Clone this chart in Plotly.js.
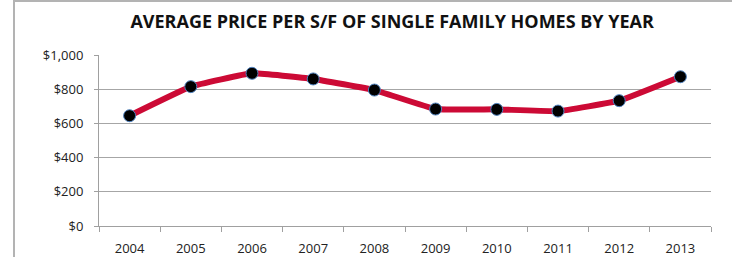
<!DOCTYPE html>
<html>
<head>
<meta charset="utf-8">
<script src="https://cdn.plot.ly/plotly-3.0.1.min.js"></script>
<style>
  html, body { margin: 0; padding: 0; background: #fff; }
  #wrap { position: relative; width: 732px; height: 257px; overflow: hidden; }
  #chart { position: absolute; left: 0; top: 0; width: 732px; height: 257px; }
  #frame { position: absolute; left: 13px; top: 0; width: 719px; height: 257px;
           border-left: 2px solid #b3b3b3; border-top: 2px solid #b3b3b3; box-sizing: border-box; pointer-events: none; }
</style>
</head>
<body>
<div id="wrap">
  <div id="chart"></div>
  <div id="frame"></div>
</div>
<script>
const years = ['2004','2005','2006','2007','2008','2009','2010','2011','2012','2013'];
const pricePerSF = [645, 815, 893, 860, 795, 684, 682, 672, 733, 873];
const yTickVals = [0, 200, 400, 600, 800, 1000];
const yTickText = ['$0', '$200', '$400', '$600', '$800', '$1,000'];
const chartTitle = 'AVERAGE PRICE PER S/F OF SINGLE FAMILY HOMES BY YEAR';

const trace = {
  x: years,
  y: pricePerSF,
  type: 'scatter',
  mode: 'lines+markers',
  line: { color: '#CC0A35', width: 6, shape: 'spline', smoothing: 0.3 },
  marker: { color: '#000000', size: 12, line: { color: '#4F81BD', width: 1 } },
  hoverinfo: 'skip'
};

const layout = {
  width: 732, height: 257,
  margin: { l: 99, r: 21, t: 55, b: 31, pad: 0 },
  paper_bgcolor: '#ffffff', plot_bgcolor: '#ffffff',
  showlegend: false,
  title: {
    text: '<b>' + chartTitle + '</b>',
    font: { family: 'Open Sans, sans-serif', size: 18, color: '#111111', weight: 800 },
    x: 0.479, xref: 'paper', xanchor: 'center',
    y: 0.915, yref: 'container', yanchor: 'middle'
  },
  xaxis: {
    type: 'category',
    tickmode: 'array', tickvals: years, ticktext: years,
    showgrid: false, zeroline: false,
    showline: true, linecolor: '#a0a0a0', linewidth: 1,
    ticks: 'outside', ticklen: 5, tickcolor: '#a0a0a0', tickson: 'boundaries',
    ticklabelstandoff: 10,
    tickfont: { family: 'Open Sans, sans-serif', size: 13, color: '#222' },
    range: [-0.5, 9.5], fixedrange: true
  },
  yaxis: {
    range: [0, 1000],
    tickmode: 'array', tickvals: yTickVals, ticktext: yTickText,
    showgrid: true, gridcolor: '#a6a6a6', gridwidth: 1,
    zeroline: false,
    showline: true, linecolor: '#a0a0a0', linewidth: 1,
    ticks: 'outside', ticklen: 4, tickcolor: '#a0a0a0',
    ticklabelstandoff: 8,
    tickfont: { family: 'Open Sans, sans-serif', size: 13, color: '#222' },
    fixedrange: true
  }
};

Plotly.newPlot('chart', [trace], layout, { staticPlot: true, displayModeBar: false });
</script>
</body>
</html>
